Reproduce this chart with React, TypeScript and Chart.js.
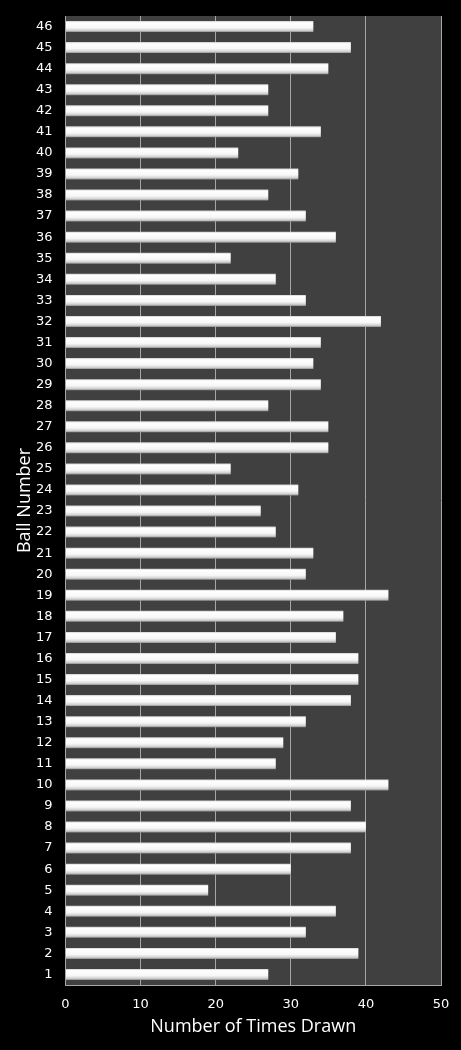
import { useEffect, useRef } from "react"
import { Chart, registerables } from "chart.js"

Chart.register(...registerables)

// Ball numbers 1..46 and how often each was drawn
const balls = Array.from({ length: 46 }, (_, i) => String(i + 1))
const timesDrawn = [
  27, 39, 32, 36, 19, 30, 38, 40, 38, 43,
  28, 29, 32, 38, 39, 39, 36, 37, 43, 32,
  33, 28, 26, 31, 22, 35, 35, 27, 34, 33,
  34, 42, 32, 28, 22, 36, 32, 27, 31, 23,
  34, 27, 27, 35, 38, 33,
]
const xTicks = [0, 10, 20, 30, 40, 50]

const TICK_FONT = "'DejaVu Sans', sans-serif"
const TITLE_FONT = "'Open Sans', 'DejaVu Sans', sans-serif"
const BAR_H = 11

// fond noir + zone de tracé gris foncé
const backgroundPlugin = {
  id: "bg",
  beforeDraw(chart: Chart) {
    const { ctx, chartArea, width, height } = chart
    ctx.save()
    ctx.fillStyle = "#000000"
    ctx.fillRect(0, 0, width, height)
    if (chartArea) {
      ctx.fillStyle = "#404040"
      ctx.fillRect(chartArea.left, chartArea.top, chartArea.right - chartArea.left, chartArea.bottom - chartArea.top)
    }
    ctx.restore()
  },
}

export default function App() {
  const chartRef = useRef<HTMLCanvasElement>(null)
  const chartInstance = useRef<Chart | null>(null)

  useEffect(() => {
    document.body.style.margin = "0"
    document.body.style.background = "#000"
    if (!chartRef.current) return
    if (chartInstance.current) chartInstance.current.destroy()
    const ctx = chartRef.current.getContext("2d")
    if (!ctx) return

    chartInstance.current = new Chart(ctx, {
      type: "bar",
      data: {
        labels: balls,
        datasets: [
          {
            data: timesDrawn,
            backgroundColor: (c: any) => {
              const chart = c.chart
              if (!chart.chartArea || c.type !== "data") return "#eeeeee"
              const y = chart.scales.y.getPixelForValue(c.dataIndex)
              const g = chart.ctx.createLinearGradient(0, y - BAR_H / 2, 0, y + BAR_H / 2)
              g.addColorStop(0, "#cfcfcf")
              g.addColorStop(0.15, "#ffffff")
              g.addColorStop(0.6, "#f7f7f7")
              g.addColorStop(0.85, "#d2d2d2")
              g.addColorStop(1, "#909090")
              return g
            },
            borderWidth: 0,
            categoryPercentage: 1,
            barPercentage: BAR_H / 21.07,
          },
        ],
      },
      options: {
        indexAxis: "y",
        responsive: false,
        animation: false,
        layout: { padding: { top: 16, right: 20, left: 0, bottom: 0 } },
        plugins: {
          legend: { display: false },
          tooltip: { enabled: false },
        },
        scales: {
          x: {
            min: 0,
            max: 50,
            afterFit: (s: any) => {
              s.height = 65
              s.paddingLeft = 0
              s.paddingRight = 0
            },
            afterBuildTicks: (s: any) => {
              s.ticks = xTicks.map((v) => ({ value: v }))
            },
            grid: { color: "#a6a6a6", lineWidth: 1, drawTicks: false },
            border: { display: true, color: "#a6a6a6" },
            ticks: { color: "#ffffff", font: { family: TICK_FONT, size: 13 }, padding: 12 },
            title: {
              display: true,
              text: "Number of Times Drawn",
              color: "#ffffff",
              font: { family: TITLE_FONT, size: 18 },
              padding: { top: 0, bottom: 12 },
            },
          },
          y: {
            reverse: true,
            afterFit: (s: any) => {
              s.width = 65.5
              s.paddingTop = 0
              s.paddingBottom = 0
            },
            grid: { display: false, drawTicks: false },
            border: { display: true, color: "#a6a6a6" },
            ticks: { color: "#ffffff", font: { family: TICK_FONT, size: 13 }, padding: 13 },
            title: {
              display: true,
              text: "Ball Number",
              color: "#ffffff",
              font: { family: TITLE_FONT, size: 18 },
              padding: { top: 14, bottom: 0 },
            },
          },
        },
      },
      plugins: [backgroundPlugin],
    })

    return () => {
      if (chartInstance.current) {
        chartInstance.current.destroy()
        chartInstance.current = null
      }
    }
  }, [])

  return <canvas ref={chartRef} width={461} height={1050} style={{ display: "block" }} />
}
